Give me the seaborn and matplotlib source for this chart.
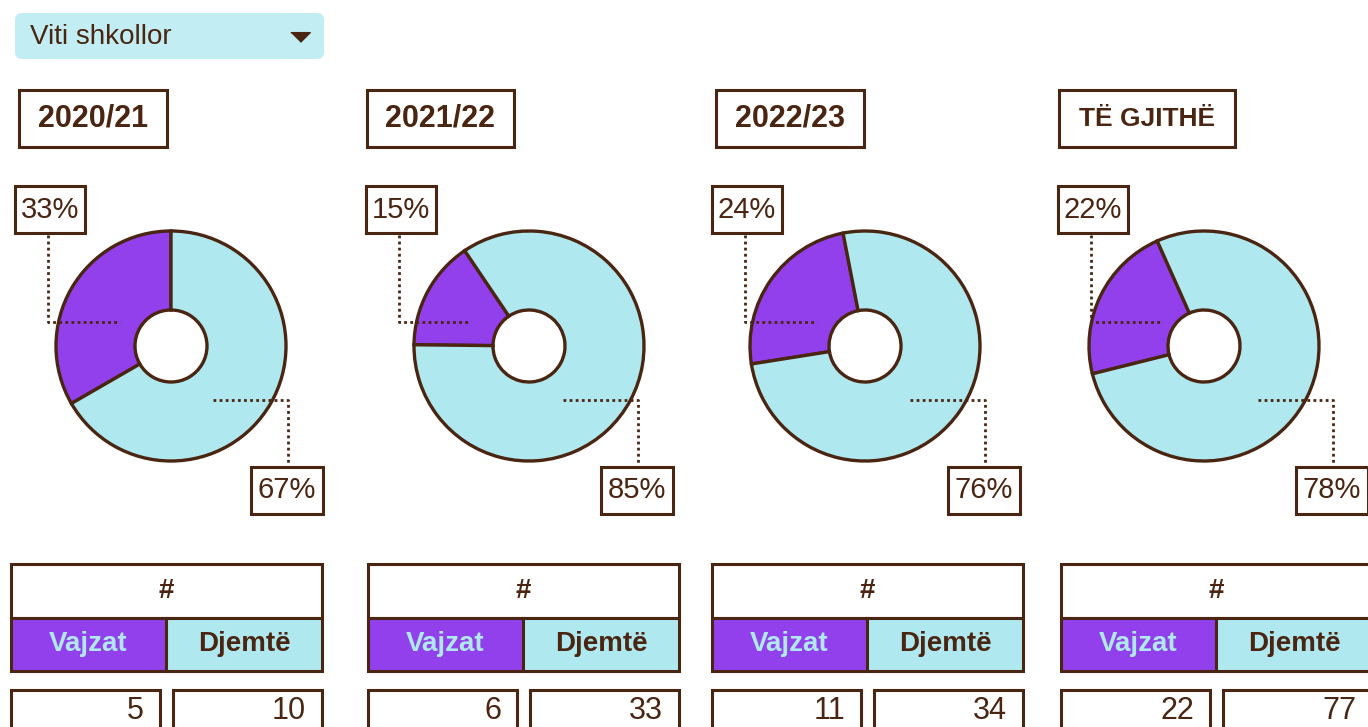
import matplotlib
matplotlib.use("Agg")
import matplotlib.pyplot as plt
from matplotlib.patches import Rectangle, FancyBboxPatch
import seaborn as sns

sns.set_theme(style="white")
plt.rcParams['font.family'] = ['Liberation Sans', 'DejaVu Sans']

# data
years = ["2020/21", "2021/22", "2022/23", "TË GJITHË"]
girls = [5, 6, 11, 22]
boys = [10, 33, 34, 77]
girls_pct = ["33%", "15%", "24%", "22%"]
boys_pct = ["67%", "85%", "76%", "78%"]
filter_label = "Viti shkollor"
col_girls = "Vajzat"
col_boys = "Djemtë"

# colours
purple, cyan = sns.color_palette(["#9140EB", "#AFE8EF"])
brown = "#4A2511"
drop_bg = "#C2EEF3"

# layout (pixels, top-left origin)
W, H = 1368, 727
title_x = [19, 367, 716, 1059]
title_w = [148, 147, 148, 176]
title_fs = [22, 22, 22, 19]
pie_cx = [171, 529, 865, 1204]
pie_start = [90, 124, 101, 114]
pie_cy = 346
r_out, r_in = 115, 36
lab_left = [15, 366, 712, 1058]
lab_right = [323, 673, 1020, 1368]
table_x = [11, 368, 712, 1061]
table_w = 311
dots = dict(color=brown, lw=2.0, ls=(0, (1, 1.2)), zorder=5)


def Y(y):
    return H - y


def box(ax, x0, y0, x1, y1, fc="white", lw=2.2, z=3):
    ax.add_patch(Rectangle((x0, Y(y1)), x1 - x0, y1 - y0, facecolor=fc,
                           edgecolor=brown, linewidth=lw, zorder=z, clip_on=False))


fig = plt.figure(figsize=(W / 100, H / 100), dpi=100)
ax = fig.add_axes([0, 0, 1, 1])

# dropdown
ax.add_patch(FancyBboxPatch((15, Y(59)), 309, 46, boxstyle="round,pad=0,rounding_size=7",
                            facecolor=drop_bg, edgecolor="none", zorder=1))
ax.text(30, Y(37), filter_label, fontsize=20, color=brown, va="center", ha="left")
ax.plot(300, Y(37), marker=[(-1, 0.5), (1, 0.5), (0, -0.5)], markersize=14,
        color=brown, zorder=2)

for i in range(len(years)):
    cx = pie_cx[i]

    # title box
    tx, tw = title_x[i], title_w[i]
    box(ax, tx, 90, tx + tw, 147)
    ax.text(tx + tw / 2, Y(118.5), years[i], fontsize=title_fs[i], fontweight="bold",
            color=brown, ha="center", va="center", zorder=4)

    # donut
    ax.pie([girls[i], boys[i]], colors=[purple, cyan], startangle=pie_start[i],
           counterclock=True, center=(cx, Y(pie_cy)), radius=r_out,
           wedgeprops=dict(width=r_out - r_in, edgecolor=brown, linewidth=2.4))

    # left label + leader
    lx = lab_left[i]
    box(ax, lx, 186, lx + 70, 233)
    ax.text(lx + 35, Y(209.5), girls_pct[i], fontsize=21, color=brown,
            ha="center", va="center", zorder=4)
    ax.plot([lx + 33, lx + 33, lx + 105], [Y(235), Y(322), Y(322)], **dots)

    # right label + leader
    rx = lab_right[i]
    box(ax, rx - 72, 467, rx, 514)
    ax.text(rx - 36, Y(490.5), boys_pct[i], fontsize=21, color=brown,
            ha="center", va="center", zorder=4)
    ax.plot([rx - 110, rx - 35, rx - 35], [Y(400), Y(400), Y(465)], **dots)

    # table header
    t0 = table_x[i]
    mid = t0 + 155
    box(ax, t0, 564, t0 + table_w, 618)
    box(ax, t0, 618, mid, 671, fc=purple)
    box(ax, mid, 618, t0 + table_w, 671, fc=cyan)
    ax.text(t0 + table_w / 2, Y(591), "#", fontsize=20, fontweight="bold", color=brown,
            ha="center", va="center", zorder=4)
    ax.text((t0 + mid) / 2, Y(644), col_girls, fontsize=20, fontweight="bold", color=cyan,
            ha="center", va="center", zorder=4)
    ax.text((mid + t0 + table_w) / 2, Y(644), col_boys, fontsize=20, fontweight="bold",
            color=brown, ha="center", va="center", zorder=4)

    # counts
    box(ax, t0, 690, t0 + 149, 740)
    box(ax, t0 + 162, 690, t0 + table_w, 740)
    ax.text(t0 + 149 - 16, Y(711), str(girls[i]), fontsize=22, color=brown,
            ha="right", va="center", zorder=4)
    ax.text(t0 + table_w - 16, Y(711), str(boys[i]), fontsize=22, color=brown,
            ha="right", va="center", zorder=4)

ax.set_xlim(0, W)
ax.set_ylim(0, H)
ax.set_aspect("auto")
ax.axis("off")

fig.savefig("out.png", dpi=100, facecolor="white")
